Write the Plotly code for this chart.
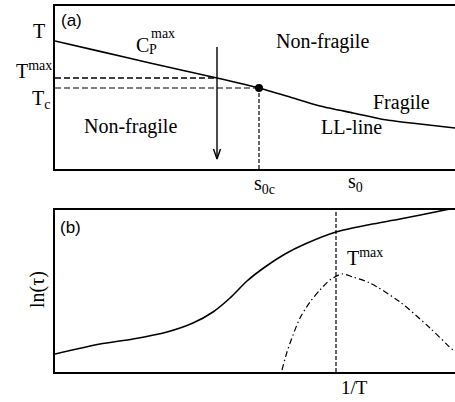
import plotly.graph_objects as go

W, H = 455, 402

# Panel (a): LL-line / C_P^max line in the (s0, T) plane
line_s = [0, 45, 95, 162, 204, 235, 265, 298, 332, 365, 400]
line_T = [128, 117.6, 106, 91, 81, 72, 63, 56, 49, 45, 41]
s0c, Tc = 204, 81          # critical point
s_cross, Tmax = 162, 91    # isobar crosses C_P^max line
arrow_top, arrow_bot = 122, 10

# Panel (b): ln(tau) versus 1/T and the C_P-like response peak
invT = [0, 45, 78, 112, 138, 158, 175, 192, 210, 230, 250, 281, 315, 345, 390, 400]
ln_tau = [18, 28, 33, 40, 49, 60, 74, 91, 105, 118, 128, 140, 147.5, 153, 162, 164]
peak_x = [227, 232, 238, 245, 255, 265, 275, 287, 298, 315, 345, 375, 398, 400]
peak_y = [2, 20, 37, 54, 70, 82, 92, 98, 95, 89, 70, 44, 22, 21]
invT_max = 281

fig = go.Figure()

black = "black"
# --- panel (a)
fig.add_trace(go.Scatter(x=line_s, y=line_T, mode="lines", xaxis="x", yaxis="y",
                         line=dict(color=black, width=1.6, shape="spline", smoothing=0.6)))
fig.add_trace(go.Scatter(x=[0, s_cross], y=[Tmax, Tmax], mode="lines", xaxis="x", yaxis="y",
                         line=dict(color=black, width=1.6, dash="6px,3px")))
fig.add_trace(go.Scatter(x=[0, s0c], y=[Tc, Tc], mode="lines", xaxis="x", yaxis="y",
                         line=dict(color=black, width=1.2, dash="6px,3px")))
fig.add_trace(go.Scatter(x=[s0c, s0c], y=[0, Tc], mode="lines", xaxis="x", yaxis="y",
                         line=dict(color=black, width=1.2, dash="4px,2px")))
fig.add_trace(go.Scatter(x=[s0c], y=[Tc], mode="markers", xaxis="x", yaxis="y",
                         marker=dict(color=black, size=8)))
# isobaric cooling arrow
fig.add_trace(go.Scatter(x=[s_cross, s_cross], y=[arrow_top, arrow_bot], mode="lines",
                         xaxis="x", yaxis="y", line=dict(color=black, width=1.4)))
fig.add_trace(go.Scatter(x=[s_cross - 3.5, s_cross, s_cross + 3.5],
                         y=[arrow_bot + 10, arrow_bot, arrow_bot + 10], mode="lines",
                         xaxis="x", yaxis="y", line=dict(color=black, width=1.4)))

# --- panel (b)
fig.add_trace(go.Scatter(x=invT, y=ln_tau, mode="lines", xaxis="x2", yaxis="y2",
                         line=dict(color=black, width=1.6, shape="spline", smoothing=0.7)))
fig.add_trace(go.Scatter(x=peak_x, y=peak_y, mode="lines", xaxis="x2", yaxis="y2",
                         line=dict(color=black, width=1.2, shape="spline", smoothing=0.8,
                                   dash="6px,3px,1.5px,3px")))
fig.add_trace(go.Scatter(x=[invT_max, invT_max], y=[0, 162], mode="lines", xaxis="x2", yaxis="y2",
                         line=dict(color=black, width=1.2, dash="4px,2px")))


def px(xp):
    return xp / W


def py(yp):
    return 1 - yp / H


serif = "Liberation Serif, Times New Roman, serif"
sans = "Liberation Sans, Arial, sans-serif"
ann = []


def label(text, x, y, size=20, family=serif, xanchor="center", yanchor="middle", angle=0):
    ann.append(dict(text=text, x=px(x), y=py(y), xref="paper", yref="paper",
                    xanchor=xanchor, yanchor=yanchor, showarrow=False, textangle=angle,
                    font=dict(family=family, size=size, color=black)))


label("(a)", 71, 20, size=17, family=sans)
label("T", 39, 31)
label("T<sup>max</sup>", 54, 70, xanchor="right")
label("T<sub>c</sub>", 52, 100, xanchor="right")
label("C", 142, 45)
label("max", 163, 33, size=14)
label("P", 153, 50, size=14)
label("Non-fragile", 322, 42)
label("Non-fragile", 130, 126)
label("Fragile", 401, 102)
label("LL-line", 351, 127)
label("s<sub>0c</sub>", 264, 184)
label("s<sub>0</sub>", 355, 182)

label("(b)", 70, 227, size=17, family=sans)
label("ln(τ)", 37, 290, angle=-90)
label("T<sup>max</sup>", 345, 257, xanchor="left")
label("1/T", 354, 387, size=19)

axis_common = dict(showline=True, linecolor=black, linewidth=2, showgrid=False,
                   zeroline=False, showticklabels=False, ticks="")

fig.update_layout(
    width=W, height=H, margin=dict(l=0, r=0, t=0, b=0),
    paper_bgcolor="white", plot_bgcolor="white", showlegend=False,
    xaxis=dict(domain=[55 / W, 1], range=[0, 400], mirror=True, anchor="y", **axis_common),
    yaxis=dict(domain=[1 - 169 / H, 1 - 6 / H], range=[0, 163], anchor="x", **axis_common),
    xaxis2=dict(domain=[55 / W, 1], range=[0, 400], mirror=True, anchor="y2", **axis_common),
    yaxis2=dict(domain=[1 - 372 / H, 1 - 210 / H], range=[0, 162], anchor="x2", **axis_common),
    annotations=ann,
)

fig.write_html("out.html")
